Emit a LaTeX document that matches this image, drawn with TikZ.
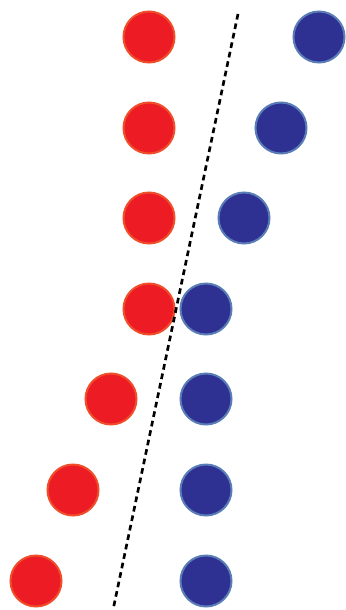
\documentclass[tikz,border=0pt]{standalone}

\definecolor{ballred}{HTML}{ED1C24}
\definecolor{ballredrim}{HTML}{F04E2B}
\definecolor{ballblue}{HTML}{2E3192}
\definecolor{ballbluerim}{HTML}{5A7DB8}

\begin{document}
\begin{tikzpicture}[
  x=0.03cm, y=-0.03cm,
  redball/.style={circle, draw=ballredrim, fill=ballred, line width=0.06cm,
                  minimum size=1.53cm, inner sep=0pt},
  blueball/.style={circle, draw=ballbluerim, fill=ballblue, line width=0.06cm,
                   minimum size=1.53cm, inner sep=0pt},
  divider/.style={black, line width=0.08cm, dash pattern=on 0.17cm off 0.12cm}
]
\useasboundingbox (0,0) rectangle (346,610);

%% Red column (shifts left at the bottom)
\node[redball] (red1) at (149, 37) {};
\node[redball] (red2) at (149,128) {};
\node[redball] (red3) at (149,218) {};
\node[redball] (red4) at (149,309) {};
\node[redball] (red5) at (111,399) {};
\node[redball] (red6) at ( 73,490) {};
\node[redball] (red7) at ( 36,581) {};

%% Blue column (shifts right at the top)
\node[blueball] (blue1) at (319, 37) {};
\node[blueball] (blue2) at (281,128) {};
\node[blueball] (blue3) at (244,218) {};
\node[blueball] (blue4) at (206,309) {};
\node[blueball] (blue5) at (206,399) {};
\node[blueball] (blue6) at (206,490) {};
\node[blueball] (blue7) at (206,581) {};

%% Dashed separating line
\coordinate (cuttop) at (238, 14);
\coordinate (cutbot) at (113,610);
\draw[divider] (cuttop) -- (cutbot);

\end{tikzpicture}
\end{document}
